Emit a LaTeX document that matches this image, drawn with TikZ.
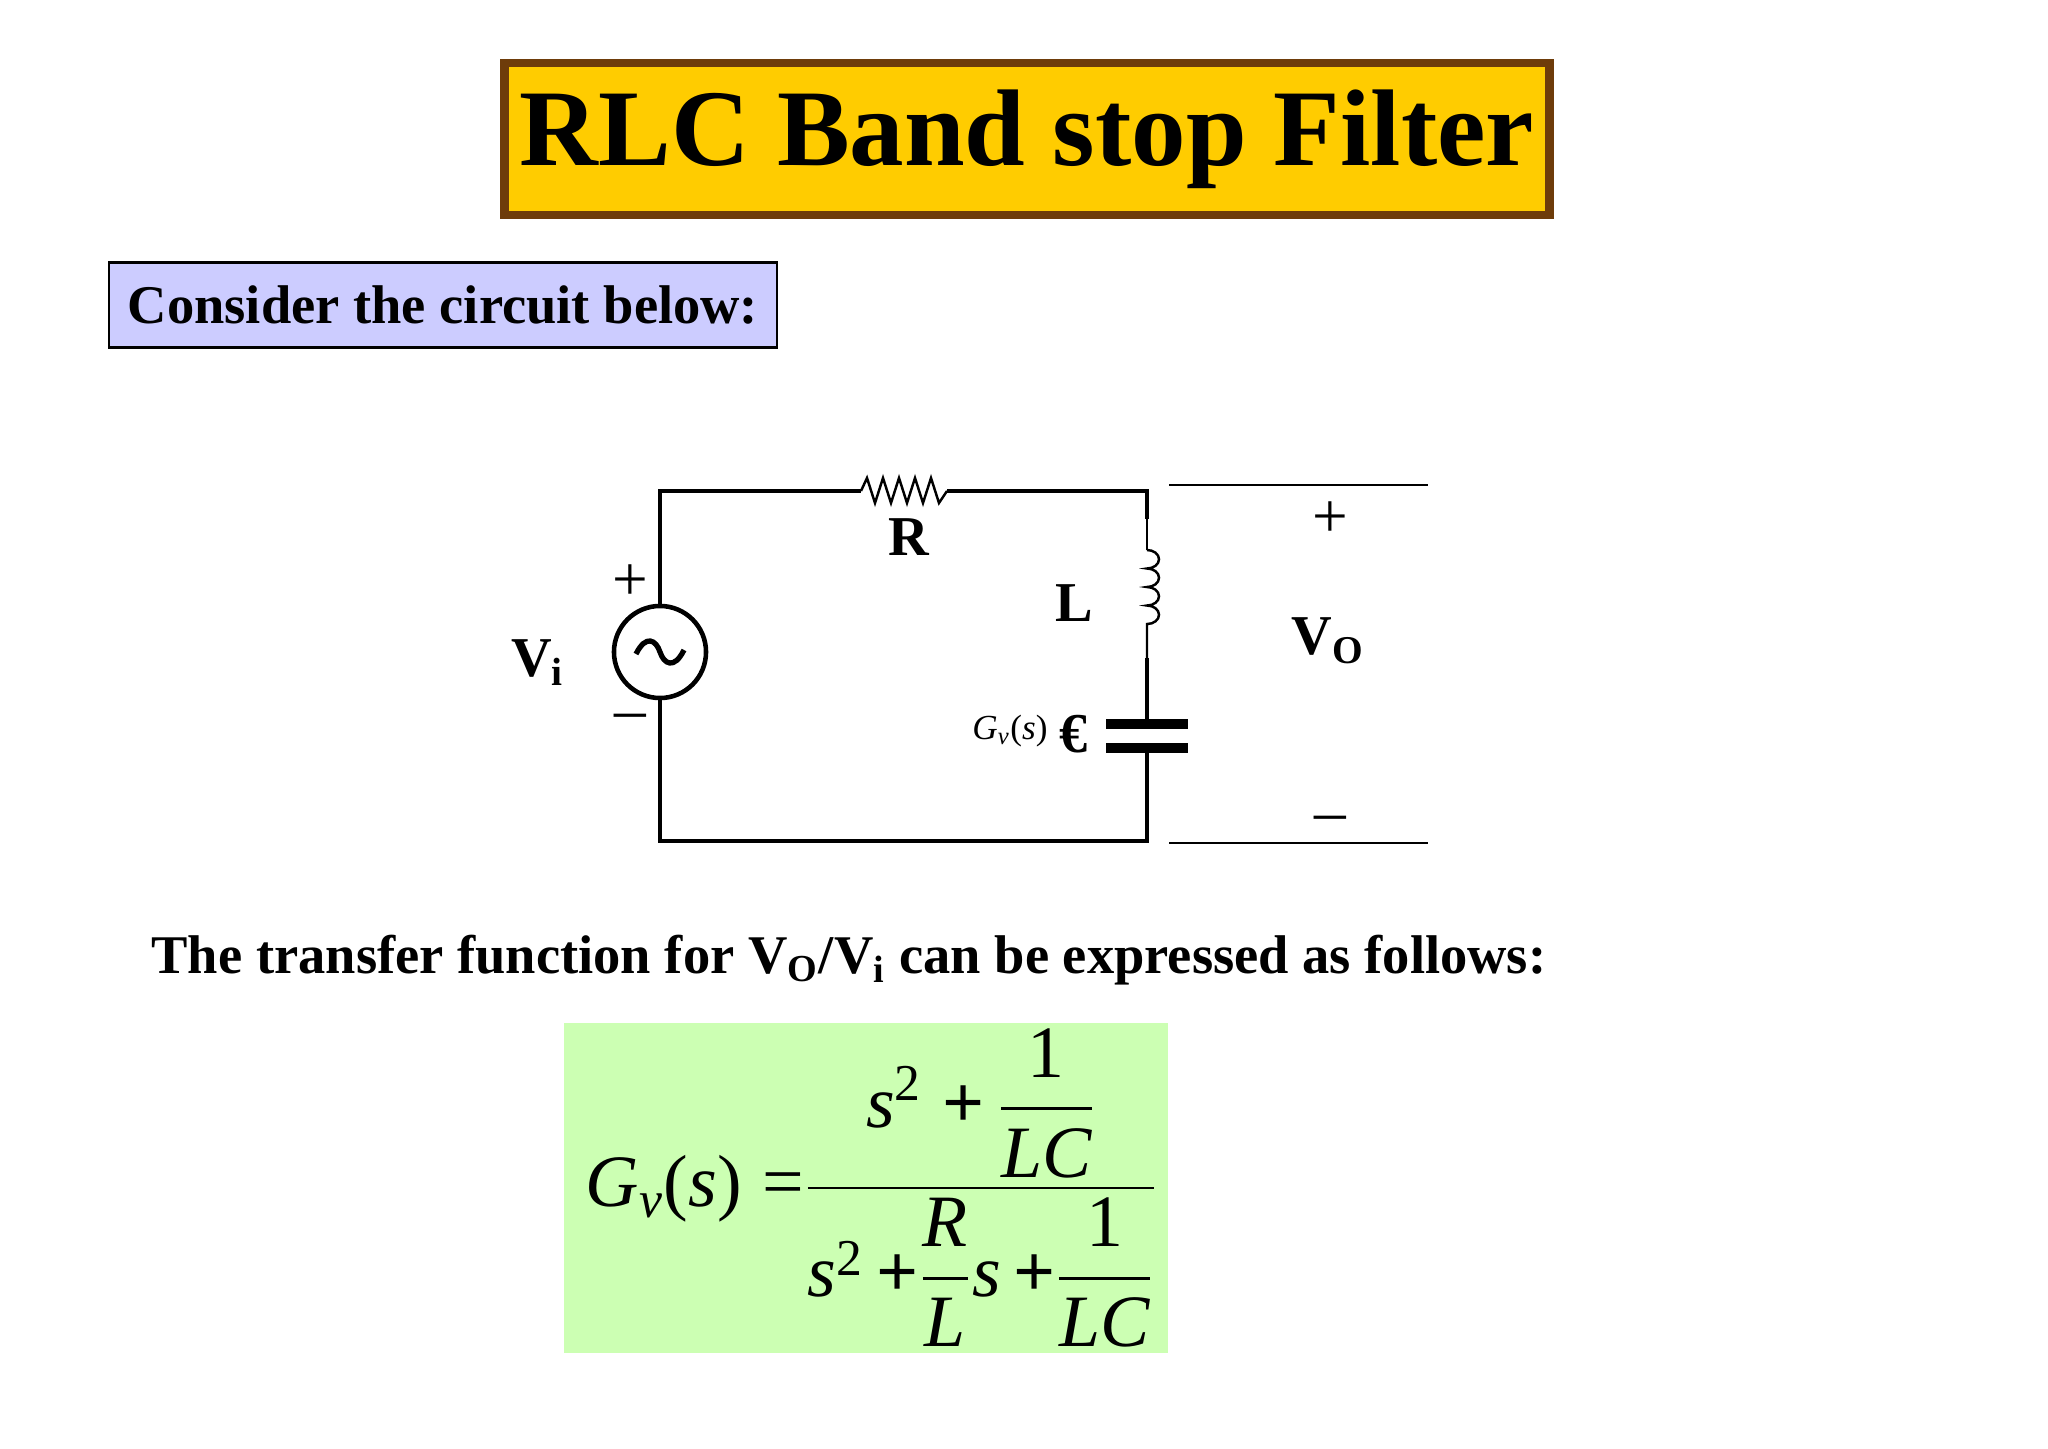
\documentclass[tikz,border=0pt]{standalone}
\usepackage{fontspec}
\usepackage{amsmath}
\setmainfont{Liberation Serif}
\newcommand\mi[1]{\textit{#1}}
\newcommand\tu[1]{\textup{#1}}
\newcommand\bp{\textbf{+}}
\definecolor{ttl}{RGB}{255,204,0}
\definecolor{ttlb}{RGB}{110,60,10}
\definecolor{cbox}{RGB}{204,204,255}
\definecolor{gbx}{RGB}{204,255,179}
\begin{document}
\begin{tikzpicture}[x=0.01cm,y=-0.01cm,
  wire/.style={line width=1.3pt},
  thin/.style={line width=0.7pt},
  lbl/.style={font=\bfseries\fontsize{16}{18}\selectfont,inner sep=0pt}]
\useasboundingbox[fill=white] (0,0) rectangle (2048,1449);
\node[draw=ttlb,line width=2.5pt,fill=ttl,minimum width=10.45cm,minimum height=1.52cm,font=\bfseries\fontsize{31}{34}\selectfont,inner sep=0pt] (title) at (1027,139) {RLC Band stop Filter};
\node[draw=black,thin,fill=cbox,minimum width=6.68cm,minimum height=0.85cm,font=\bfseries\fontsize{15.5}{18}\selectfont,inner sep=0pt] (cons) at (443,305) {Consider the circuit below:};
% circuit
\coordinate (tl) at (660,491); \coordinate (tr) at (1147,491);
\coordinate (bl) at (660,841); \coordinate (br) at (1147,841);
\node[circle,draw,wire,minimum size=0.92cm,inner sep=0pt] (src) at (660,652) {};
\draw[line width=1.5pt] (636,654) .. controls (646,634) and (656,640) .. (660,652) .. controls (664,664) and (674,670) .. (684,650);
\coordinate (r1) at (861,491); \coordinate (r2) at (947,491);
\draw[wire] (src.north) -- (tl) -- (r1);
\draw[thin] (r1) -- (867,478) -- (875,503) -- (883,478) -- (891,503) -- (899,478) -- (907,503) -- (915,478) -- (923,503) -- (931,478) -- (939,503) -- (r2);
\draw[wire] (r2) -- (tr) -- (1147,519);
\coordinate (l1) at (1147,550); \coordinate (l2) at (1147,658);
\draw[thin] (1147,519) -- (l1);
\draw[thin] (l1) arc[start angle=90,end angle=-90,x radius=0.12cm,y radius=0.0925cm]
  arc[start angle=90,end angle=-90,x radius=0.12cm,y radius=0.0925cm]
  arc[start angle=90,end angle=-90,x radius=0.12cm,y radius=0.0925cm]
  arc[start angle=90,end angle=-90,x radius=0.12cm,y radius=0.0925cm] -- (l2);
\draw[wire] (l2) -- (1147,724);
\draw[line width=2.6pt] (1106,724) -- (1188,724);
\draw[line width=2.6pt] (1106,748) -- (1188,748);
\draw[wire] (1147,748) -- (br) -- (bl) -- (src.south);
\draw[thin] (1169,485) -- (1428,485);
\draw[thin] (1169,843) -- (1428,843);
\node[font=\fontsize{18}{18}\selectfont] (p2) at (1330,520) {+};
\node[font=\fontsize{18}{18}\selectfont] (m2) at (1330,824) {--};
\node[lbl] (vo) at (1328,641) {V\textsubscript{O}};
\node[lbl] (L) at (1074,603) {L};
\node[lbl] (R) at (909,537) {R};
\node[lbl] (vi) at (538,663) {V\textsubscript{i}};
\node[font=\fontsize{18}{18}\selectfont] (p1) at (630,583) {+};
\node[font=\fontsize{18}{18}\selectfont] (m1) at (630,722) {--};
\node[font=\fontsize{10}{12}\selectfont,inner sep=0pt] (gvs) at (1010,731) {$\mi{G}_{\mi{v}}\tu{(}\mi{s}\tu{)}$};
\node[font=\bfseries\fontsize{16}{16}\selectfont,inner sep=0pt] (eur) at (1074,734) {€};
\node[font=\bfseries\fontsize{15.5}{18}\selectfont,inner sep=0pt] (tf) at (849,960) {The transfer function for V\textsubscript{O}/V\textsubscript{i} can be expressed as follows:};
\node[fill=gbx,minimum width=6.03cm,minimum height=3.29cm] (gbox) at (866,1188) {};
\node[font=\fontsize{21}{25}\selectfont,inner sep=0pt] (eq) at (872,1188) {$\mi{G}_{\mi{v}}\tu{(}\mi{s}\tu{)}\;\tu{=}\dfrac{\mi{s}^{\tu{2}}\;\bp\,\dfrac{\tu{1}}{\mi{LC}}}{\mi{s}^{\tu{2}}\,\bp\dfrac{\mi{R}}{\mi{L}}\mi{s}\,\bp\dfrac{\tu{1}}{\mi{LC}}}$};
\end{tikzpicture}
\end{document}
